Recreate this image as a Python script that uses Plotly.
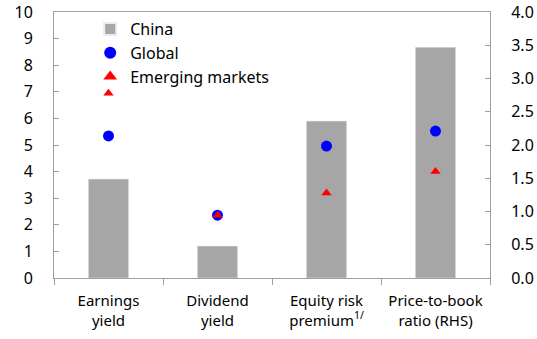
import plotly.graph_objects as go

categories = ["Earnings<br>yield", "Dividend<br>yield", "Equity risk<br>premium<sup>1/</sup>", "Price-to-book<br>ratio (RHS)"]
china = [3.72, 1.2, 5.9]
global_ = [5.34, 2.36, 4.96]
emerging = [6.95, 2.36, 3.2]
china_rhs = [3.47]
global_rhs = [2.21]
emerging_rhs = [1.6]

GRAY = "#A6A6A6"
FONT = "Noto Sans, DejaVu Sans, sans-serif"

fig = go.Figure()
fig.add_trace(go.Bar(x=categories[:3], y=china, name="China", marker_color=GRAY,
                     width=0.37, legendgroup="c", yaxis="y"))
fig.add_trace(go.Bar(x=categories[3:], y=china_rhs, name="China", marker_color=GRAY,
                     width=0.37, legendgroup="c", showlegend=False, yaxis="y2"))
fig.add_trace(go.Scatter(x=categories[:3], y=global_, name="Global", mode="markers",
                         marker=dict(color="#0000FF", size=11, symbol="circle"),
                         legendgroup="g", yaxis="y"))
fig.add_trace(go.Scatter(x=categories[3:], y=global_rhs, name="Global", mode="markers",
                         marker=dict(color="#0000FF", size=11, symbol="circle"),
                         legendgroup="g", showlegend=False, yaxis="y2"))
fig.add_trace(go.Scatter(x=categories[:3], y=emerging, name="Emerging markets", mode="markers",
                         marker=dict(color="#FF0000", size=9, symbol="triangle-up"),
                         legendgroup="e", yaxis="y"))
fig.add_trace(go.Scatter(x=categories[3:], y=emerging_rhs, name="Emerging markets", mode="markers",
                         marker=dict(color="#FF0000", size=9, symbol="triangle-up"),
                         legendgroup="e", showlegend=False, yaxis="y2"))

fig.update_layout(
    width=537, height=339,
    margin=dict(l=54, r=47, t=12, b=61),
    paper_bgcolor="white", plot_bgcolor="white",
    font=dict(family=FONT, size=15, color="#000000"),
    barmode="overlay",
    showlegend=True,
    legend=dict(x=0.083, y=1.0, xanchor="left", yanchor="top", bgcolor="rgba(0,0,0,0)",
                font=dict(size=16), tracegroupgap=0, itemsizing="constant", itemwidth=30),
    xaxis=dict(type="category", showline=True, linecolor="#A0A0A0", linewidth=1,
               ticks="outside", tickson="boundaries", ticklen=6, tickcolor="#A0A0A0",
               mirror=True, showgrid=False, tickfont=dict(size=15), automargin=False,
               ticklabelstandoff=9),
    yaxis=dict(range=[0, 10], dtick=1, showline=True, linecolor="#A0A0A0", linewidth=1,
               ticks="inside", ticklen=5, tickcolor="#A0A0A0", showgrid=False,
               zeroline=False, tickfont=dict(size=16), automargin=False,
               ticklabelstandoff=17),
    yaxis2=dict(range=[0, 4], dtick=0.5, tickformat=".1f", overlaying="y", side="right",
                showline=True, linecolor="#A0A0A0", linewidth=1, ticks="inside", ticklen=5,
                tickcolor="#A0A0A0", showgrid=False, zeroline=False, tickfont=dict(size=16),
                automargin=False, ticklabelstandoff=17),
)

fig.write_html("out.html", config={"displayModeBar": False},
               post_script="document.body.style.margin='0';")
